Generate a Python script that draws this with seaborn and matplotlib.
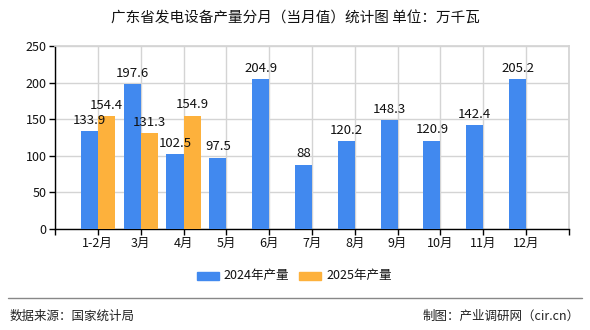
import matplotlib
matplotlib.use("Agg")
import matplotlib.pyplot as plt
import seaborn as sns
import pandas as pd
import numpy as np
from matplotlib.patches import Rectangle
from matplotlib.lines import Line2D

months = ["1-2月", "3月", "4月", "5月", "6月", "7月", "8月", "9月", "10月", "11月", "12月"]
values_2024 = [133.9, 197.6, 102.5, 97.5, 204.9, 88, 120.2, 148.3, 120.9, 142.4, 205.2]
values_2025 = [154.4, 131.3, 154.9, None, None, None, None, None, None, None, None]
series_names = ["2024年产量", "2025年产量"]
yticks = [0, 50, 100, 150, 200, 250]

title = "广东省发电设备产量分月（当月值）统计图 单位：万千瓦"
source = "数据来源：国家统计局"
maker = "制图：产业调研网（cir.cn）"

sns.set_theme(style="white")
plt.rcParams['font.family'] = ['Noto Sans CJK SC', 'DejaVu Sans']

rows = []
for m, v in zip(months, values_2024):
    rows.append({"month": m, "series": series_names[0], "value": v})
for m, v in zip(months, values_2025):
    if v is not None:
        rows.append({"month": m, "series": series_names[1], "value": v})
df = pd.DataFrame(rows)

colors = {series_names[0]: "#4189ef", series_names[1]: "#fdb13c"}

fig = plt.figure(figsize=(5.9, 3.3), dpi=100)
ax = fig.add_axes([55/590, 101/330, (569-55)/590, (229-46)/330])

sns.barplot(data=df, x="month", y="value", hue="series", order=months,
            hue_order=series_names, palette=colors, width=0.8, dodge=True,
            saturation=1, errorbar=None, legend=False, ax=ax, zorder=3,
            linewidth=0, edgecolor="none")

for cont in ax.containers:
    ax.bar_label(cont, labels=[("%g" % v) if not np.isnan(v) else "" for v in cont.datavalues],
                 padding=3, fontsize=9.5, color="#111111", zorder=4)

ax.set_xlim(-1, 11)
ax.set_ylim(0, 250)
ax.set_yticks(yticks)
ax.set_yticklabels([str(t) for t in yticks], fontsize=9)
ax.set_xticks(range(-1, 12))
ax.set_xticklabels([""] + months + [""], fontsize=9)
ax.set_xlabel("")
ax.set_ylabel("")
ax.grid(True, color="#d4d4d4", linewidth=1, zorder=0)
ax.set_axisbelow(True)
for s in ["top", "right"]:
    ax.spines[s].set_color("#d4d4d4")
for s in ["left", "bottom"]:
    ax.spines[s].set_color("#000000")
    ax.spines[s].set_linewidth(1)
ax.tick_params(axis="both", which="both", length=4, width=1, color="#000000",
               bottom=True, left=True, pad=2, labelcolor="#111111")

fig.text(295/590, 1 - 18/330, title, ha="center", va="center", fontsize=10.5, color="#111111")

# legend
fig.patches.append(Rectangle((197/590, 1 - 280/330), 22/590, 8/330, transform=fig.transFigure,
                             color=colors[series_names[0]], figure=fig))
fig.text(223/590, 1 - 276/330, series_names[0], ha="left", va="center", fontsize=9, color="#111111")
fig.patches.append(Rectangle((299/590, 1 - 280/330), 22/590, 8/330, transform=fig.transFigure,
                             color=colors[series_names[1]], figure=fig))
fig.text(326/590, 1 - 276/330, series_names[1], ha="left", va="center", fontsize=9, color="#111111")

# footer
fig.lines.append(Line2D([8/590, 582/590], [1 - 298/330, 1 - 298/330], transform=fig.transFigure,
                        color="#888888", linewidth=1))
fig.text(10/590, 1 - 316/330, source, ha="left", va="center", fontsize=9, color="#222222")
fig.text(580/590, 1 - 316/330, maker, ha="right", va="center", fontsize=9, color="#222222")

fig.savefig("out.png", dpi=100)
